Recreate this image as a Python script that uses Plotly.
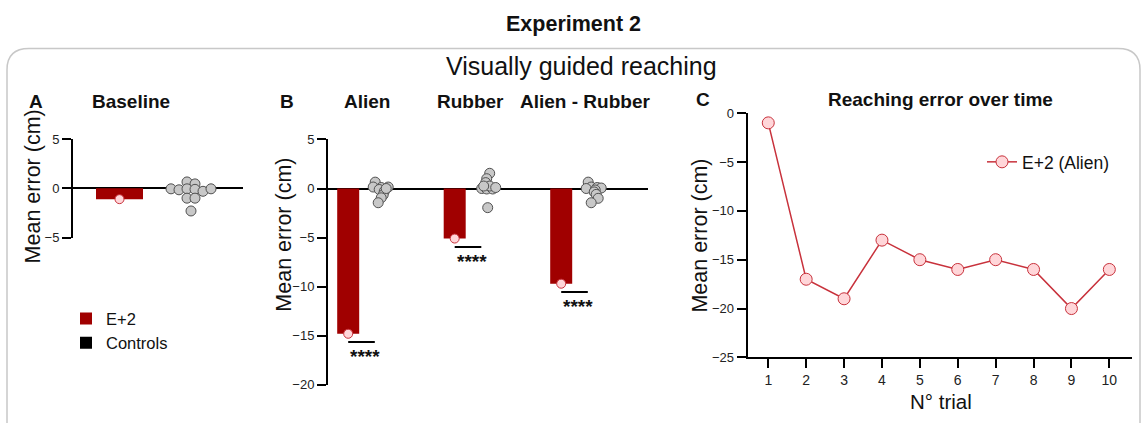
import plotly.graph_objects as go

W, H = 1146, 423

# ---------------- data ----------------
baseline_e2 = -1.1
baseline_ctrl_mean = -0.25
baseline_ctrl = [0.65, 0.45, -0.05, -0.15, -0.05, -0.1, -0.3, -0.05, -1.0, -1.0, -2.3]

groups_B = ["Alien", "Rubber", "Alien - Rubber"]
e2_B = [-14.8, -5.1, -9.7]
ctrl_B_mean = [-0.2, 0.1, -0.3]
ctrl_alien = [0.65, 0.15, 0.1, 0.15, -0.1, -0.3, -0.65, -0.95, -1.45, 0.0]
ctrl_rubber = [1.55, 1.0, 0.6, 0.0, -0.05, -0.05, 0.25, 0.25, 0.1, -1.95]
ctrl_alien_rubber = [0.65, 0.15, 0.1, 0.05, 0.0, -0.15, -0.35, -0.6, -1.0, -1.45]
sig_labels = ["****", "****", "****"]

trials = [1, 2, 3, 4, 5, 6, 7, 8, 9, 10]
trial_error = [-1, -17, -19, -13, -15, -16, -15, -16, -20, -16]

# ---------------- style ----------------
RED = "#A00000"
PINK = "#FFD6D9"
PINK_LINE = "#C8323C"
GREY = "#C8C8C8"
GREY_LINE = "#505050"
FONT = "Liberation Sans, Arial, sans-serif"
TXT = "#111111"

# swarm offsets in px (layout only)
off_base = [-5, 3, -21, -13, -5, 3, 11, 19, -5, 3, -1]
off_alien = [-6, -8, 0, 7, -2, 3, 2, 0, -3, 5]
off_rubber = [2, -1, -2, -6, -1, 5, 2, -4, 8, 0]
off_ar = [-6, -3, 3, 7, -8, 1, 0, 2, 4, -3]

UA = 72.5    # px per unit, panel A x
UB = 106.5   # px per unit, panel B x
dB = 16.5 / UB  # half-offset of pair in panel B


def px(x):
    return x / W


def py(y):
    return 1 - y / H


fig = go.Figure()

# ---- Panel A ----
fig.add_trace(go.Bar(x=[0], y=[baseline_e2], width=[47 / UA], marker=dict(color=RED, line=dict(width=0)),
                     name="E+2", xaxis="x", yaxis="y", legend="legend"))
fig.add_trace(go.Bar(x=[1], y=[baseline_ctrl_mean], width=[47 / UA], marker=dict(color="black", line=dict(width=0)),
                     name="Controls", xaxis="x", yaxis="y", legend="legend"))
fig.add_trace(go.Scatter(x=[0], y=[baseline_e2], mode="markers", showlegend=False, cliponaxis=False,
                         marker=dict(size=9, color=PINK, line=dict(color=PINK_LINE, width=1)),
                         xaxis="x", yaxis="y"))
fig.add_trace(go.Scatter(x=[1 + o / UA for o in off_base], y=baseline_ctrl, mode="markers",
                         showlegend=False, cliponaxis=False,
                         marker=dict(size=10, color=GREY, line=dict(color=GREY_LINE, width=1)),
                         xaxis="x", yaxis="y"))

# ---- Panel B ----
gpos = list(range(len(groups_B)))
fig.add_trace(go.Bar(x=[g - dB for g in gpos], y=e2_B, width=22 / UB, marker=dict(color=RED, line=dict(width=0)),
                     showlegend=False, xaxis="x2", yaxis="y2"))
fig.add_trace(go.Bar(x=[g + dB for g in gpos], y=ctrl_B_mean, width=22 / UB,
                     marker=dict(color="black", line=dict(width=0)),
                     showlegend=False, xaxis="x2", yaxis="y2"))
fig.add_trace(go.Scatter(x=[g - dB for g in gpos], y=e2_B, mode="markers", showlegend=False, cliponaxis=False,
                         marker=dict(size=9, color=PINK, line=dict(color=PINK_LINE, width=1)),
                         xaxis="x2", yaxis="y2"))
for g, vals, offs in zip(gpos, [ctrl_alien, ctrl_rubber, ctrl_alien_rubber], [off_alien, off_rubber, off_ar]):
    fig.add_trace(go.Scatter(x=[g + dB + o / UB for o in offs], y=vals, mode="markers",
                             showlegend=False, cliponaxis=False,
                             marker=dict(size=10, color=GREY, line=dict(color=GREY_LINE, width=1)),
                             xaxis="x2", yaxis="y2"))

# ---- Panel C ----
fig.add_trace(go.Scatter(x=trials, y=trial_error, mode="lines+markers", name="E+2 (Alien)",
                         line=dict(color=PINK_LINE, width=1.5),
                         marker=dict(size=12, color=PINK, line=dict(color=PINK_LINE, width=1)),
                         cliponaxis=False, xaxis="x3", yaxis="y3", legend="legend2"))

# ---- axes ----
yax = dict(showline=True, linewidth=2, linecolor="black", ticks="outside", ticklen=9, tickwidth=2,
           tickcolor="black", showgrid=False, tickfont=dict(family=FONT, size=13, color="#222"),
           zeroline=False, fixedrange=True)
hidden_x = dict(visible=False, showgrid=False, zeroline=False, fixedrange=True)

fig.update_layout(
    xaxis=dict(domain=[px(73), px(243)], range=[-46.5 / UA, 1 + 51 / UA], anchor="y", **hidden_x),
    yaxis=dict(domain=[py(239), py(137)], range=[-5, 5], tickvals=[-5, 0, 5], anchor="x",
               **{**yax, "zeroline": True, "zerolinecolor": "black", "zerolinewidth": 2}),
    xaxis2=dict(domain=[px(328), px(648)], range=[(328 - 364.7) / UB, (648 - 364.7) / UB], anchor="y2",
                **hidden_x),
    yaxis2=dict(domain=[py(391.7), py(137.3)], range=[-20, 5], tickvals=[-20, -15, -10, -5, 0, 5], anchor="x2",
                **{**yax, "zeroline": True, "zerolinecolor": "black", "zerolinewidth": 2}),
    xaxis3=dict(domain=[px(747.7), px(1131.7)], range=[0.457, 10.59], tickvals=trials, anchor="y3",
                **{**yax, "tickfont": dict(family=FONT, size=14, color="#222")}),
    yaxis3=dict(domain=[py(363.3), py(110)], range=[-25, 0], tickvals=[-25, -20, -15, -10, -5, 0],
                anchor="x3", **yax),
)

# significance lines + stars
for g, v, lab in zip(gpos, e2_B, sig_labels):
    ly = v - 0.85
    fig.add_shape(type="line", xref="x2", yref="y2", x0=g - dB, x1=g + dB - 0.06, y0=ly, y1=ly,
                  line=dict(color="black", width=2))
    fig.add_annotation(xref="x2", yref="y2", x=g + 0.005, y=ly, text=f"<b>{lab}</b>", showarrow=False,
                       yanchor="top", xanchor="center", yshift=-2,
                       font=dict(family=FONT, size=19, color=TXT))

# outer rounded frame
x0, x1 = px(7), px(1140)
yt, yb = py(43), -0.1
rx, ry = 22 / W, 22 / H
fig.add_shape(type="path", xref="paper", yref="paper",
              path=f"M {x0},{yb} L {x0},{yt - ry} Q {x0},{yt} {x0 + rx},{yt} L {x1 - rx},{yt} "
                   f"Q {x1},{yt} {x1},{yt - ry} L {x1},{yb}",
              line=dict(color="#C8C8C8", width=1.5), layer="below")


def txt(x, y, s, size, bold=False, angle=0, xanchor="center"):
    fig.add_annotation(xref="paper", yref="paper", x=px(x), y=py(y), text=f"<b>{s}</b>" if bold else s,
                       showarrow=False, xanchor=xanchor, yanchor="middle", textangle=angle,
                       font=dict(family=FONT, size=size, color=TXT))


txt(573, 18, "Experiment 2", 21.5, bold=True)
txt(581, 61, "Visually guided reaching", 25)
txt(36, 98, "A", 19, bold=True)
txt(131, 98, "Baseline", 19, bold=True)
txt(287, 98, "B", 19, bold=True)
for cx, name in zip([367, 470.5, 584.5], groups_B):
    txt(cx, 98, name, 19, bold=True)
txt(703, 96, "C", 19, bold=True)
txt(940, 96, "Reaching error over time", 19, bold=True)
txt(33, 186, "Mean error (cm)", 21.5, angle=-90)
txt(284, 236, "Mean error (cm)", 21.5, angle=-90)
txt(700, 237, "Mean error (cm)", 21.5, angle=-90)
txt(941, 409, "N° trial", 20.5)

fig.update_layout(
    width=W, height=H, margin=dict(l=0, r=0, t=0, b=0),
    paper_bgcolor="white", plot_bgcolor="rgba(0,0,0,0)",
    barmode="overlay", showlegend=True,
    font=dict(family=FONT, color=TXT),
    legend=dict(x=px(66), y=py(305), xanchor="left", yanchor="top", bgcolor="rgba(0,0,0,0)",
                font=dict(family=FONT, size=16.5, color=TXT), tracegroupgap=0, itemclick=False),
    legend2=dict(x=px(982), y=py(142), xanchor="left", yanchor="top", bgcolor="rgba(0,0,0,0)",
                 font=dict(family=FONT, size=17.5, color=TXT), itemclick=False),
)

fig.write_html("out.html")
